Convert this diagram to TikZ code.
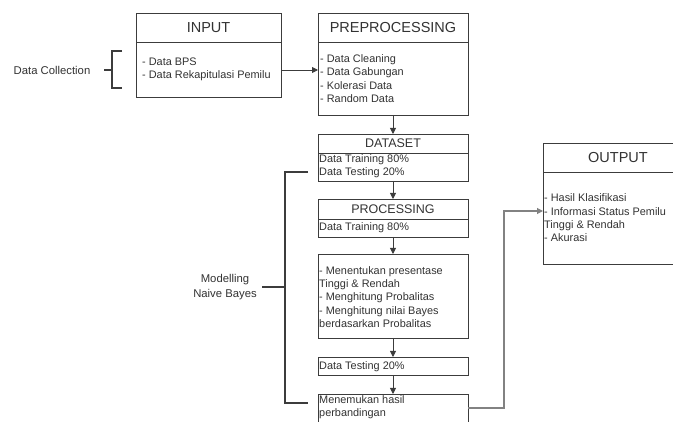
\documentclass[tikz,border=0pt]{standalone}
\usepackage{fontspec}
\setmainfont{Liberation Sans}
\usetikzlibrary{arrows.meta}
\definecolor{ink}{RGB}{50,50,50}
\definecolor{edge}{RGB}{60,60,60}
\definecolor{soft}{RGB}{130,130,130}
\tikzset{
  boxpart/.style={draw=edge, line width=0.9pt, anchor=north west, inner sep=0pt, outer sep=0pt},
  bigtitle/.style={font=\fontsize{14.5}{16}\selectfont, text=ink},
  midtitle/.style={font=\fontsize{12.5}{14}\selectfont, text=ink},
  bodytext/.style={font=\fontsize{10.9}{13.3}\selectfont, text=ink, align=left, anchor=west, inner sep=0pt},
  sidetext/.style={font=\fontsize{11.3}{15}\selectfont, text=ink, align=center, inner sep=0pt},
  flow/.style={draw=edge, line width=0.9pt, -{Triangle[length=6pt,width=6pt]}},
  brace/.style={draw=edge, line width=1.3pt},
  outline/.style={draw=soft, line width=1.1pt, -{Triangle[length=6pt,width=6pt]}}
}
\begin{document}
\begin{tikzpicture}[x=1pt,y=-1pt]
\useasboundingbox (0,0) rectangle (673,422);
\clip (0,0) rectangle (673,422);
% INPUT
\node[boxpart, minimum width=145pt, minimum height=29pt, bigtitle] (inh) at (136,13) {INPUT};
\node[boxpart, minimum width=145pt, minimum height=55pt] (inb) at (136,42) {};
\node[bodytext] (intx) at (142,69.5) {- Data BPS\\- Data Rekapitulasi Pemilu};
% PREPROCESSING
\node[boxpart, minimum width=150pt, minimum height=29pt, bigtitle] (preh) at (318,13) {PREPROCESSING};
\node[boxpart, minimum width=150pt, minimum height=73pt] (preb) at (318,42) {};
\node[bodytext] (pretx) at (320,78.5) {- Data Cleaning\\- Data Gabungan\\- Kolerasi Data\\- Random Data};
% DATASET
\node[boxpart, minimum width=150pt, minimum height=19pt, midtitle] (dsh) at (318,134) {DATASET};
\node[boxpart, minimum width=150pt, minimum height=28pt] (dsb) at (318,153) {};
\node[bodytext] (dstx) at (319,166.5) {Data Training 80\%\\Data Testing 20\%};
% PROCESSING
\node[boxpart, minimum width=150pt, minimum height=20pt, midtitle] (prh) at (318,199) {PROCESSING};
\node[boxpart, minimum width=150pt, minimum height=18pt] (prb) at (318,219) {};
\node[bodytext] (prtx) at (319,228) {Data Training 80\%};
% steps
\node[boxpart, minimum width=150pt, minimum height=84pt] (stb) at (318,254) {};
\node[bodytext] (sttx) at (319,297) {- Menentukan presentase\\Tinggi \& Rendah\\- Menghitung Probalitas\\- Menghitung nilai Bayes\\berdasarkan Probalitas};
% testing
\node[boxpart, minimum width=150pt, minimum height=18pt] (tsb) at (318,357) {};
\node[bodytext] (tstx) at (319,367) {Data Testing 20\%};
% result
\node[boxpart, minimum width=150pt, minimum height=40pt] (rsb) at (318,394) {};
\node[bodytext] (rstx) at (319,407.5) {Menemukan hasil\\perbandingan};
% OUTPUT
\node[boxpart, minimum width=150pt, minimum height=29pt, bigtitle] (outh) at (543,143) {OUTPUT};
\node[boxpart, minimum width=150pt, minimum height=92pt] (outb) at (543,172) {};
\node[bodytext] (outtx) at (544,218) {- Hasil Klasifikasi\\- Informasi Status Pemilu\\Tinggi \& Rendah\\- Akurasi};
% side labels
\node[sidetext] (dc) at (52,70) {Data Collection};
\node[sidetext] (nb) at (225,287.5) {Modelling\\Naive Bayes};
% braces
\coordinate (b1t) at (122,51);
\coordinate (b1b) at (122,88);
\draw[brace] (b1t) -- (112,51) -- (112,88) -- (b1b);
\draw[brace] (104,70) -- (112,70);
\coordinate (b2t) at (308,172);
\coordinate (b2b) at (308,403);
\draw[brace] (b2t) -- (285,172) -- (285,403) -- (b2b);
\draw[brace] (262,287) -- (285,287);
% flows
\draw[flow] (inb.east |- 0,70) -- (preb.west |- 0,70);
\draw[flow] (preb.south) -- (dsh.north);
\draw[flow] (dsb.south) -- (prh.north);
\draw[flow] (prb.south) -- (stb.north);
\draw[flow] (stb.south) -- (tsb.north);
\draw[flow] (tsb.south) -- (rsb.north);
\draw[outline] (rsb.east |- 0,408) -- (504,408) -- (504,211) -- (outb.west |- 0,211);
\end{tikzpicture}
\end{document}
